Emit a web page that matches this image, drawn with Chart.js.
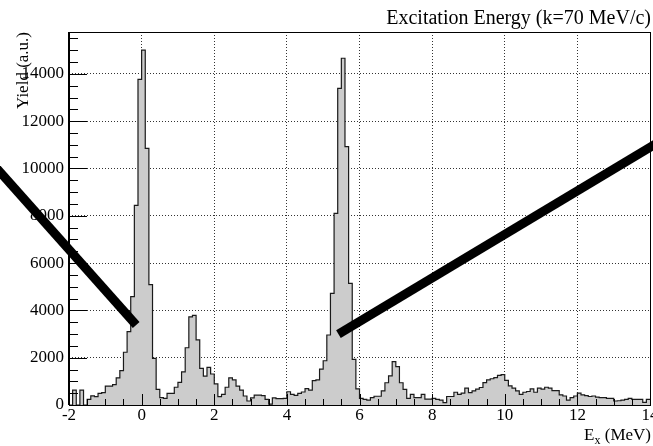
<!DOCTYPE html>
<html>
<head>
<meta charset="utf-8">
<script src="https://cdn.jsdelivr.net/npm/chart.js@4"></script>
<style>
    body { margin: 0; background: #fff; }
    canvas { display: block; }
</style>
</head>
<body>
<canvas id="my-chart" width="653" height="446"></canvas>
<script>
// Excitation energy spectrum, 0.1 MeV bins from -2 to 14 MeV
const binLow = -2
const binWidth = 0.1
const counts = [
    0, 630, 0, 630, 0, 240, 390, 350, 490, 520,
    800, 800, 860, 1150, 1450, 2230, 3100, 4580, 8440, 13770,
    15000, 10850, 5090, 1970, 660, 310, 280, 490, 490, 750,
    960, 1400, 2420, 3730, 3790, 2750, 1550, 1220, 1590, 1310,
    890, 350, 450, 750, 1150, 1060, 800, 630, 380, 170,
    300, 420, 420, 400, 240, 40, 300, 270, 270, 280,
    560, 450, 410, 490, 550, 690, 630, 1030, 1060, 1520,
    1870, 2960, 4720, 8100, 13390, 14660, 10920, 5140, 1930, 680,
    280, 240, 210, 310, 370, 370, 600, 940, 1230, 1830,
    1620, 940, 660, 280, 450, 310, 310, 450, 250, 250,
    280, 240, 210, 100, 360, 360, 540, 450, 500, 710,
    520, 600, 670, 740, 950, 1060, 1110, 1160, 1250, 1280,
    1040, 810, 710, 600, 450, 540, 570, 680, 540, 710,
    670, 750, 710, 610, 610, 430, 380, 210, 310, 380,
    500, 430, 400, 360, 380, 330, 310, 310, 280, 280,
    170, 180, 210, 240, 280, 240, 240, 240, 110, 240
]

// the two thick black strokes drawn over the plot
const leftStroke = [{ x: -4.04, y: 10090 }, { x: -0.15, y: 3380 }]
const rightStroke = [{ x: 5.42, y: 3000 }, { x: 14.3, y: 11170 }]

// labelled ticks
const xTicks = [-2, 0, 2, 4, 6, 8, 10, 12, 14]
const yTicks = [0, 2000, 4000, 6000, 8000, 10000, 12000, 14000]

const xMin = -2
const xMax = 14
const yMax = 15770

const titleText = 'Excitation Energy (k=70 MeV/c)'
const yTitle = 'Yield (a.u.)'

const serif = 'Liberation Serif'

// points at the left edge of every bin, plus the closing edge
const histPoints = counts.map((c, i) => ({ x: binLow + i * binWidth, y: c }))
histPoints.push({ x: binLow + counts.length * binWidth, y: counts[counts.length - 1] })

// frame, inner ticks, title and axis titles (ROOT look)
const rootStyle = {
    id: 'rootStyle',
    afterDatasetsDraw(chart) {
        const { ctx, chartArea: a, scales } = chart
        const x = scales.x
        const y = scales.y
        ctx.save()
        ctx.strokeStyle = '#000'
        ctx.lineWidth = 1

        // x ticks every 0.5, long ones at labels
        ctx.beginPath()
        for (let i = xMin * 2; i <= xMax * 2; i++) {
            const px = Math.round(x.getPixelForValue(i / 2)) + 0.5
            const len = i % 4 === 0 ? 11 : 6
            ctx.moveTo(px, a.bottom)
            ctx.lineTo(px, a.bottom - len)
        }
        // y ticks every 500, long ones at labels
        for (let v = 0; v <= yMax; v += 500) {
            const py = Math.round(y.getPixelForValue(v)) + 0.5
            const len = v % 2000 === 0 ? 18 : 9
            ctx.moveTo(a.left, py)
            ctx.lineTo(a.left + len, py)
        }
        ctx.stroke()

        ctx.strokeRect(Math.round(a.left) + 0.5, Math.round(a.top) + 0.5,
            Math.round(a.right - a.left), Math.round(a.bottom - a.top))
        ctx.beginPath()
        ctx.moveTo(Math.round(a.left) - 0.5, a.top)
        ctx.lineTo(Math.round(a.left) - 0.5, a.bottom)
        ctx.stroke()

        ctx.fillStyle = '#000'
        ctx.textBaseline = 'alphabetic'

        // title top right
        ctx.font = `20px "${serif}"`
        ctx.textAlign = 'right'
        ctx.fillText(titleText, 651, 24)

        // y title, rotated, flush with the top of the axis
        ctx.save()
        ctx.translate(28, a.top)
        ctx.rotate(-Math.PI / 2)
        ctx.font = `17px "${serif}"`
        ctx.textAlign = 'right'
        ctx.fillText(yTitle, 0, 0)
        ctx.restore()

        // x title E_x (MeV), right aligned
        ctx.textAlign = 'left'
        ctx.font = `17px "${serif}"`
        const wE = ctx.measureText('E').width
        const wRest = ctx.measureText(' (MeV)').width
        ctx.font = `12px "${serif}"`
        const wSub = ctx.measureText('x').width
        let cx = 651 - wE - wSub - wRest
        ctx.font = `17px "${serif}"`
        ctx.fillText('E', cx, 440)
        cx += wE
        ctx.font = `12px "${serif}"`
        ctx.fillText('x', cx, 444)
        cx += wSub
        ctx.font = `17px "${serif}"`
        ctx.fillText(' (MeV)', cx, 440)
        ctx.restore()
    }
}

const ctx = document.getElementById('my-chart')

new Chart(ctx, {
    type: 'line',
    data: {
        datasets: [
            {
                data: leftStroke,
                borderColor: '#000',
                borderWidth: 9,
                borderCapStyle: 'butt',
                pointRadius: 0,
                fill: false,
                clip: false
            },
            {
                data: rightStroke,
                borderColor: '#000',
                borderWidth: 9,
                borderCapStyle: 'butt',
                pointRadius: 0,
                fill: false,
                clip: false
            },
            {
                data: histPoints,
                stepped: 'before',
                borderColor: '#1a1a1a',
                borderWidth: 1.2,
                backgroundColor: '#cccccc',
                fill: 'origin',
                pointRadius: 0,
                tension: 0
            }
        ]
    },
    options: {
        responsive: false,
        animation: false,
        events: [],
        layout: {
            padding: { top: 32, right: 3, left: 0, bottom: 0 }
        },
        plugins: {
            legend: { display: false },
            tooltip: { enabled: false },
            title: { display: false }
        },
        scales: {
            x: {
                type: 'linear',
                min: xMin,
                max: xMax,
                afterBuildTicks(scale) {
                    scale.ticks = xTicks.map((v) => ({ value: v }))
                },
                afterFit(scale) {
                    scale.height = 41
                    scale.paddingLeft = 0
                    scale.paddingRight = 0
                },
                ticks: {
                    padding: 0,
                    maxRotation: 0,
                    autoSkip: false,
                    color: '#000',
                    font: { family: serif, size: 17 }
                },
                grid: {
                    color: '#333',
                    lineWidth: 1,
                    drawTicks: false
                },
                border: { display: false, dash: [1, 2] }
            },
            y: {
                type: 'linear',
                min: 0,
                max: yMax,
                afterBuildTicks(scale) {
                    scale.ticks = yTicks.map((v) => ({ value: v }))
                },
                afterFit(scale) {
                    scale.width = 69
                },
                ticks: {
                    autoSkip: false,
                    padding: 5,
                    color: '#000',
                    font: { family: serif, size: 17 },
                    callback: (v) => String(v)
                },
                grid: {
                    color: '#333',
                    lineWidth: 1,
                    drawTicks: false
                },
                border: { display: false, dash: [1, 2] }
            }
        }
    },
    plugins: [rootStyle]
})
</script>
</body>
</html>
